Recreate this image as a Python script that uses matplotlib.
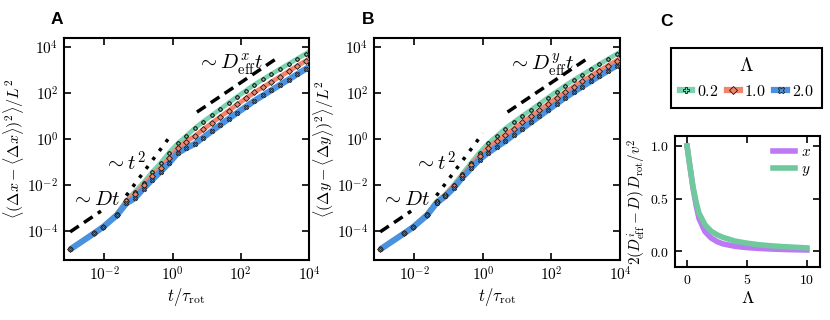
import numpy as np
import matplotlib
matplotlib.use('Agg')
import matplotlib.pyplot as plt
from matplotlib.lines import Line2D
from matplotlib.ticker import FixedLocator, NullLocator, FuncFormatter

plt.rcParams['mathtext.fontset'] = 'cm'
plt.rcParams['font.family'] = ['DejaVu Serif']

# times (log10 t/tau_rot)
log_t = [-3.0, -2.3, -2.03, -1.63, -1.35, -1.1, -0.85, -0.6, -0.35, -0.1, 0.15, 0.4,
         0.65, 0.9, 1.15, 1.4, 1.65, 1.9, 2.15, 2.4, 2.65, 2.9, 3.15, 3.4, 3.65, 3.9, 4.0]

# panel A, log10 <(dx-<dx>)^2>/L^2
msd_x_02 = [-4.81, -4.11, -3.83, -3.27, -2.68, -2.30, -1.90, -1.45, -1.05, -0.60, -0.20, 0.12,
            0.46, 0.75, 1.02, 1.29, 1.57, 1.84, 2.10, 2.36, 2.59, 2.82, 3.04, 3.26, 3.48, 3.70, 3.79]
msd_x_10 = [-4.81, -4.11, -3.83, -3.29, -2.72, -2.38, -2.00, -1.60, -1.25, -0.83, -0.40, -0.12,
            0.12, 0.41, 0.69, 0.96, 1.23, 1.50, 1.76, 2.02, 2.25, 2.48, 2.71, 2.94, 3.17, 3.39, 3.48]
msd_x_20 = [-4.81, -4.11, -3.83, -3.32, -2.80, -2.58, -2.16, -1.78, -1.43, -1.05, -0.62, -0.40,
            -0.22, 0.06, 0.34, 0.61, 0.88, 1.14, 1.40, 1.66, 1.89, 2.12, 2.35, 2.58, 2.81, 3.04, 3.13]

# panel B, log10 <(dy-<dy>)^2>/L^2
msd_y_02 = [-4.81, -4.11, -3.83, -3.27, -2.72, -2.42, -2.00, -1.52, -1.05, -0.60, -0.20, 0.12,
            0.45, 0.73, 1.00, 1.26, 1.53, 1.80, 2.06, 2.32, 2.56, 2.79, 3.02, 3.25, 3.47, 3.69, 3.78]
msd_y_10 = [-4.81, -4.11, -3.83, -3.29, -2.74, -2.45, -2.05, -1.60, -1.15, -0.74, -0.38, -0.10,
            0.17, 0.45, 0.72, 0.98, 1.25, 1.52, 1.78, 2.04, 2.28, 2.51, 2.74, 2.97, 3.19, 3.41, 3.50]
msd_y_20 = [-4.81, -4.11, -3.83, -3.32, -2.78, -2.50, -2.13, -1.68, -1.28, -0.90, -0.60, -0.35,
            -0.10, 0.18, 0.45, 0.72, 0.99, 1.26, 1.53, 1.80, 2.04, 2.28, 2.51, 2.74, 2.97, 3.19, 3.28]

lambdas = ['0.2', '1.0', '2.0']

# guide lines (endpoints)
dt_t, dt_msd = [1e-3, 8e-3], [9e-5, 7.2e-4]
t2_t, t2_msd = [0.044, 1.0], [3.4e-3, 1.78]
deff_t, deff_msd = [5.2, 1260.0], [14.7, 3550.0]

# panel C
lam = [0, 0.25, 0.5, 0.75, 1, 1.5, 2, 2.5, 3, 4, 5, 6, 7, 8, 9, 10]
deff_x = [1.0, 0.80, 0.60, 0.44, 0.31, 0.185, 0.125, 0.09, 0.068, 0.045, 0.033, 0.025, 0.019, 0.015, 0.012, 0.01]
deff_y = [1.0, 0.80, 0.61, 0.47, 0.36, 0.25, 0.19, 0.155, 0.13, 0.095, 0.075, 0.06, 0.05, 0.042, 0.036, 0.03]

colors = ['#7ad2ae', '#f2846b', '#4a92e0']
markers = ['P', 'D', 'X']
widths = [3.4, 3.4, 4.4]

fig = plt.figure(figsize=(8.3, 3.2), dpi=100)
axA = fig.add_axes([0.0771, 0.1875, 0.2952, 0.6937])
axB = fig.add_axes([0.4506, 0.1875, 0.2964, 0.6937])
axC = fig.add_axes([0.8133, 0.1656, 0.1747, 0.4094])


def style(ax):
    for s in ax.spines.values():
        s.set_linewidth(1.5)
    ax.tick_params(direction='in', length=5, width=1.2, top=True, right=True,
                   labelsize=11, pad=4)


def msd_panel(ax, series, comp):
    t = 10 ** np.array(log_t)
    for i in range(3):
        m = 10 ** np.array(series[i])
        ax.plot(t, m, color=colors[i], lw=widths[i], solid_capstyle='butt', zorder=2 + i)
    for i in range(3):
        m = 10 ** np.array(series[i])
        ax.plot(t[:-1], m[:-1], ls='none', marker=markers[i], ms=3.0, mfc=colors[i],
                mec='#1a1a1a', mew=0.6, zorder=6)
    ax.plot(dt_t, dt_msd, color='k', lw=2.5, ls=(0, (3, 1.8)), zorder=7)
    ax.plot(t2_t, t2_msd, color='k', lw=2.5, ls=(0, (1, 2.2)), zorder=7)
    ax.plot(deff_t, deff_msd, color='k', lw=2.5, ls=(0, (3, 1.8)), zorder=7)
    ax.text(10 ** -2.98, 10 ** -2.62, r'$\sim Dt$', fontsize=15, va='center', ha='left')
    ax.text(10 ** -2.0, 10 ** -1.05, r'$\sim t^2$', fontsize=15, va='center', ha='left')
    ax.text(10 ** 0.72, 10 ** 3.24, r'$\sim D^{%s}_{\rm eff}t$' % comp, fontsize=15,
            va='center', ha='left')
    ax.set_xscale('log')
    ax.set_yscale('log')
    ax.set_xlim(10 ** -3.18, 1e4)
    ax.set_ylim(10 ** -5.27, 10 ** 4.39)
    ax.xaxis.set_major_locator(FixedLocator([1e-2, 1, 1e2, 1e4]))
    ax.yaxis.set_major_locator(FixedLocator([1e-4, 1e-2, 1, 1e2, 1e4]))
    ax.xaxis.set_minor_locator(NullLocator())
    ax.yaxis.set_minor_locator(NullLocator())
    fmt = FuncFormatter(lambda v, p: r'$10^{%d}$' % int(round(np.log10(v))))
    ax.xaxis.set_major_formatter(fmt)
    ax.yaxis.set_major_formatter(fmt)
    ax.set_xlabel(r'$t/\tau_{\rm rot}$', fontsize=12, labelpad=2)
    ax.set_ylabel(r'$\langle(\Delta %s - \langle\Delta %s\rangle)^2\rangle/L^2$' % (comp, comp),
                  fontsize=11.5, labelpad=1)
    style(ax)


msd_panel(axA, [msd_x_02, msd_x_10, msd_x_20], 'x')
msd_panel(axB, [msd_y_02, msd_y_10, msd_y_20], 'y')

axC.plot(lam, deff_x, color='#bd78f5', lw=4, label=r'$x$')
axC.plot(lam, deff_y, color='#6fc99c', lw=4, label=r'$y$')
axC.set_xlim(-1.0, 11.1)
axC.set_ylim(-0.152, 1.095)
axC.set_xticks([0, 5, 10])
axC.set_xticklabels([r'$0$', r'$5$', r'$10$'])
axC.set_yticks([0, 0.5, 1.0])
axC.set_yticklabels([r'$0.0$', r'$0.5$', r'$1.0$'])
axC.set_xlabel(r'$\Lambda$', fontsize=13, labelpad=2)
axC.set_ylabel(r'$2(D^i_{\rm eff}-D)\,D_{\rm rot}/v^2$', fontsize=11, labelpad=2)
style(axC)
axC.tick_params(labelsize=10)
axC.legend(loc='upper right', frameon=False, fontsize=11, handlelength=1.4,
           handletextpad=0.4, labelspacing=0.2, borderaxespad=0.2)

handles = [Line2D([], [], color=colors[i], lw=4.5, marker=markers[i], ms=4.5, mfc=colors[i],
                  mec='#1a1a1a', mew=0.6) for i in range(3)]
leg = fig.legend(handles, [r'$%s$' % l for l in lambdas], title=r'$\Lambda$', ncol=3,
                 loc='center', bbox_to_anchor=(0.8995, 0.756), fontsize=11.5, title_fontsize=14,
                 handlelength=0.8, handletextpad=0.3, columnspacing=0.5, fancybox=False,
                 framealpha=1, edgecolor='k', borderpad=0.55, borderaxespad=0)
leg.get_frame().set_linewidth(1.5)

for lbl, x, y in [('A', 0.0687, 0.9375), ('B', 0.443, 0.9375), ('C', 0.8036, 0.934)]:
    fig.text(x, y, lbl, fontsize=12.5, fontweight='bold', family='Liberation Sans',
             ha='center', va='center')

fig.savefig('out.png', dpi=100)
